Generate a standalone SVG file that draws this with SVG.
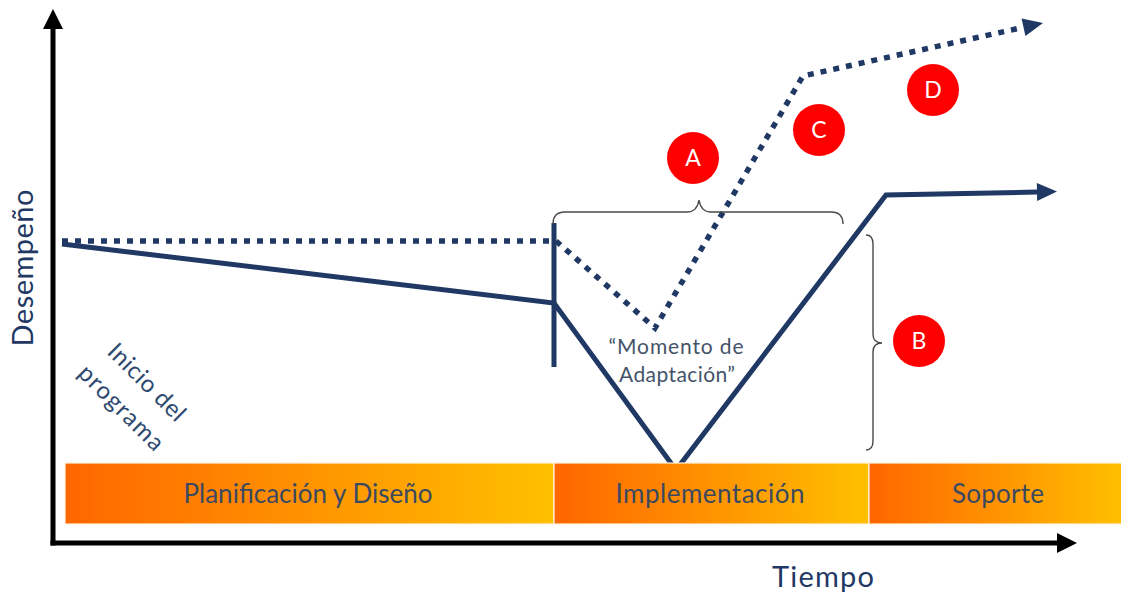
<svg xmlns="http://www.w3.org/2000/svg" width="1121" height="595" viewBox="0 0 1121 595">
  <defs>
    <linearGradient id="phaseFill" x1="0" y1="0" x2="1" y2="0">
      <stop offset="0" stop-color="#FF6600"/>
      <stop offset="1" stop-color="#FFC000"/>
    </linearGradient>
    <marker id="headNavy" markerUnits="userSpaceOnUse" markerWidth="22" markerHeight="20" refX="0" refY="9" orient="auto" overflow="visible">
      <path d="M0,0 L20,9 L0,18 Z" fill="#1F3864"/>
    </marker>
    <marker id="headBlack" markerUnits="userSpaceOnUse" markerWidth="22" markerHeight="22" refX="0" refY="10" orient="auto" overflow="visible">
      <path d="M0,0 L20,10 L0,20 Z" fill="#000"/>
    </marker>
    <style>
      .txt { font-family: Lato, "Open Sans", "Liberation Sans", sans-serif; }
      .axis { stroke: #000; stroke-width: 5; fill: none; }
      .axisLabel { fill: #1F3864; font-size: 29px; }
      .phase { fill: url(#phaseFill); stroke: #FFF3E0; stroke-width: 1.2; }
      .phaseLabel { fill: #3B4960; font-size: 26px; text-anchor: middle; }
      .solid { stroke: #1F3864; stroke-width: 5; fill: none; stroke-linejoin: miter; }
      .dotted { stroke: #1F3864; stroke-width: 5.5; fill: none; stroke-dasharray: 6 7; }
      .brace { stroke: #4A4A4A; stroke-width: 1.4; fill: none; }
      .badge { fill: #FF0000; }
      .badgeLabel { fill: #FFFFFF; font-size: 23px; text-anchor: middle; }
      .note { fill: #44546A; font-size: 21px; text-anchor: middle; }
      .start { fill: #2E4A70; font-size: 24px; text-anchor: middle; }
    </style>
  </defs>

  <rect width="1121" height="595" fill="#FFFFFF"/>

  <!-- axes -->
  <g id="axes">
    <line class="axis" x1="53" y1="545.5" x2="53" y2="29" marker-end="url(#headBlack)"/>
    <line class="axis" x1="50.5" y1="543" x2="1057" y2="543" marker-end="url(#headBlack)"/>
    <text class="txt axisLabel" transform="translate(33,268) rotate(-90)" text-anchor="middle" textLength="157">Desempeño</text>
    <text class="txt axisLabel" x="823" y="587" text-anchor="middle" textLength="102">Tiempo</text>
  </g>

  <!-- performance curves -->
  <g id="connectors">
    <line id="program-start" class="solid" x1="554" y1="223" x2="554" y2="367" stroke-width="4"/>
    <polyline id="actual-performance" class="solid" points="62,244 554,303 676,470 886,195 1037,192" marker-end="url(#headNavy)"/>
    <polyline id="expected-performance" class="dotted" points="62,241 556,241 655,328 803,76 1023.5,27.3" marker-end="url(#headNavy)"/>
  </g>

  <!-- phase bars along the time axis (drawn over the curve's low point) -->
  <g id="phase-planificacion">
    <rect class="phase" x="65" y="463" width="489" height="61"/>
    <text class="txt phaseLabel" x="308" y="503" textLength="249">Planificación y Diseño</text>
  </g>
  <g id="phase-implementacion">
    <rect class="phase" x="554" y="463" width="315" height="61"/>
    <text class="txt phaseLabel" x="710" y="503" textLength="189">Implementación</text>
  </g>
  <g id="phase-soporte">
    <rect class="phase" x="869" y="463" width="254" height="61"/>
    <text class="txt phaseLabel" x="998" y="503" textLength="92">Soporte</text>
  </g>

  <!-- braces -->
  <g id="brace-a">
    <path class="brace" d="M553,224 Q553,212 565,212 L687,212 Q697,212 699,200 Q701,212 711,212 L831,212 Q843,212 843,224"/>
  </g>
  <g id="brace-b">
    <path class="brace" d="M866,235 Q873,235 873,244 L873,334 Q873,343 882,343 Q873,343 873,352 L873,441 Q873,450 866,450"/>
  </g>

  <!-- lettered markers -->
  <g id="badge-a">
    <circle class="badge" cx="693" cy="158" r="26"/>
    <text class="txt badgeLabel" x="693" y="166">A</text>
  </g>
  <g id="badge-b">
    <circle class="badge" cx="919" cy="341" r="26"/>
    <text class="txt badgeLabel" x="919" y="349">B</text>
  </g>
  <g id="badge-c">
    <circle class="badge" cx="819" cy="130" r="26"/>
    <text class="txt badgeLabel" x="819" y="138">C</text>
  </g>
  <g id="badge-d">
    <circle class="badge" cx="933" cy="90" r="26"/>
    <text class="txt badgeLabel" x="933" y="98">D</text>
  </g>

  <!-- annotations -->
  <g id="label-adaptacion">
    <text class="txt note" x="676" y="354" textLength="135">“Momento de</text>
    <text class="txt note" x="677" y="382" textLength="116">Adaptación”</text>
  </g>
  <g id="label-inicio" transform="translate(141,388) rotate(45)">
    <text class="txt start" x="0" y="0" textLength="99">Inicio del</text>
    <text class="txt start" x="0" y="36" textLength="110">programa</text>
  </g>
</svg>
